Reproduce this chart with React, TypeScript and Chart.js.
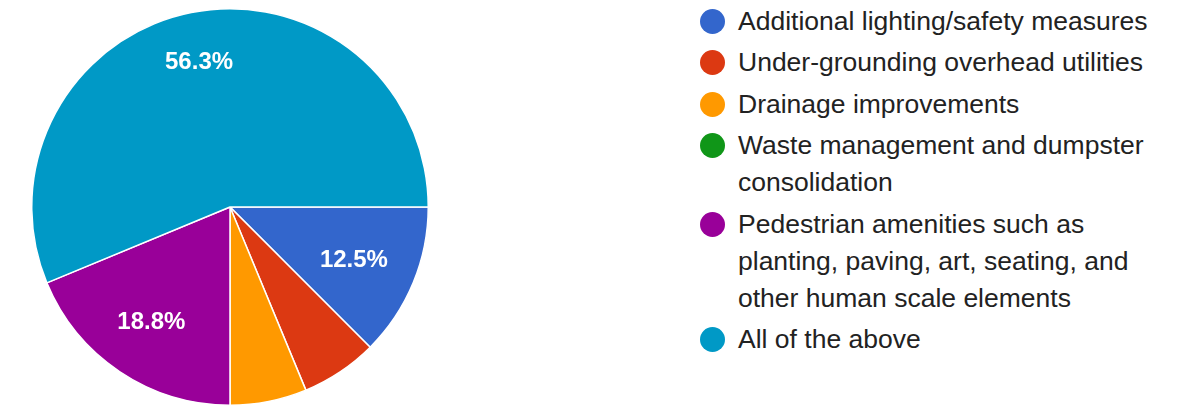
import React, { useEffect, useRef } from "react";
import { Chart, registerables } from "chart.js";

Chart.register(...registerables);

const categories = [
  "Additional lighting/safety measures",
  "Under-grounding overhead utilities",
  "Drainage improvements",
  "Waste management and dumpster consolidation",
  "Pedestrian amenities such as planting, paving, art, seating, and other human scale elements",
  "All of the above",
];
const responses = [2, 1, 1, 0, 3, 9];
const colors = ["#3366cc", "#dc3912", "#ff9900", "#109618", "#990099", "#0099c6"];
const legendLines = [
  ["Additional lighting/safety measures"],
  ["Under-grounding overhead utilities"],
  ["Drainage improvements"],
  ["Waste management and dumpster", "consolidation"],
  ["Pedestrian amenities such as", "planting, paving, art, seating, and", "other human scale elements"],
  ["All of the above"],
];

const sliceLabels = {
  id: "sliceLabels",
  afterDatasetsDraw(chart: any) {
    const ctx = chart.ctx;
    const meta = chart.getDatasetMeta(0);
    const data = chart.data.datasets[0].data as number[];
    const total = data.reduce((a, b) => a + b, 0);
    ctx.save();
    ctx.fillStyle = "#ffffff";
    ctx.font = "bold 24px 'Liberation Sans', Arial, sans-serif";
    ctx.textAlign = "center";
    ctx.textBaseline = "middle";
    meta.data.forEach((arc: any, i: number) => {
      const frac = data[i] / total;
      if (frac < 0.1) return;
      const p = arc.getProps(["x", "y", "startAngle", "endAngle", "outerRadius"], true);
      const mid = (p.startAngle + p.endAngle) / 2;
      const r = p.outerRadius * (0.67 + 0.14 * frac);
      ctx.fillText((frac * 100).toFixed(1) + "%", p.x + Math.cos(mid) * r - 2, p.y + Math.sin(mid) * r + 1);
    });
    ctx.restore();
  },
};

export default function App() {
  const ref = useRef<HTMLCanvasElement>(null);
  useEffect(() => {
    if (!ref.current) return;
    const chart = new Chart(ref.current, {
      type: "pie",
      data: {
        labels: categories,
        datasets: [
          {
            data: responses,
            backgroundColor: colors,
            borderColor: "#ffffff",
            borderWidth: 1.5,
          },
        ],
      },
      options: {
        responsive: false,
        animation: false,
        rotation: 90,
        layout: { padding: 0 },
        plugins: { legend: { display: false }, tooltip: { enabled: false } },
      },
      plugins: [sliceLabels],
    });
    return () => chart.destroy();
  }, []);

  return (
    <div
      style={{
        position: "absolute",
        left: 0,
        top: 0,
        width: 1183,
        height: 407,
        background: "#ffffff",
        overflow: "hidden",
      }}
    >
      <canvas
        ref={ref}
        width={398}
        height={398}
        style={{ position: "absolute", left: 31, top: 8, width: 398, height: 398 }}
      />
      <div
        style={{
          position: "absolute",
          left: 700,
          top: 2.5,
          fontFamily: "'Liberation Sans', Arial, sans-serif",
          fontSize: 26.5,
          color: "#222222",
        }}
      >
        {legendLines.map((lines, i) => (
          <div key={i} style={{ display: "flex", alignItems: "flex-start", marginBottom: 4.5 }}>
            <div
              style={{
                width: 25,
                height: 25,
                borderRadius: "50%",
                background: colors[i],
                marginTop: 6,
                flex: "0 0 25px",
              }}
            />
            <div style={{ marginLeft: 13, lineHeight: "37px", whiteSpace: "nowrap" }}>
              {lines.map((l, j) => (
                <div key={j}>{l}</div>
              ))}
            </div>
          </div>
        ))}
      </div>
    </div>
  );
}
